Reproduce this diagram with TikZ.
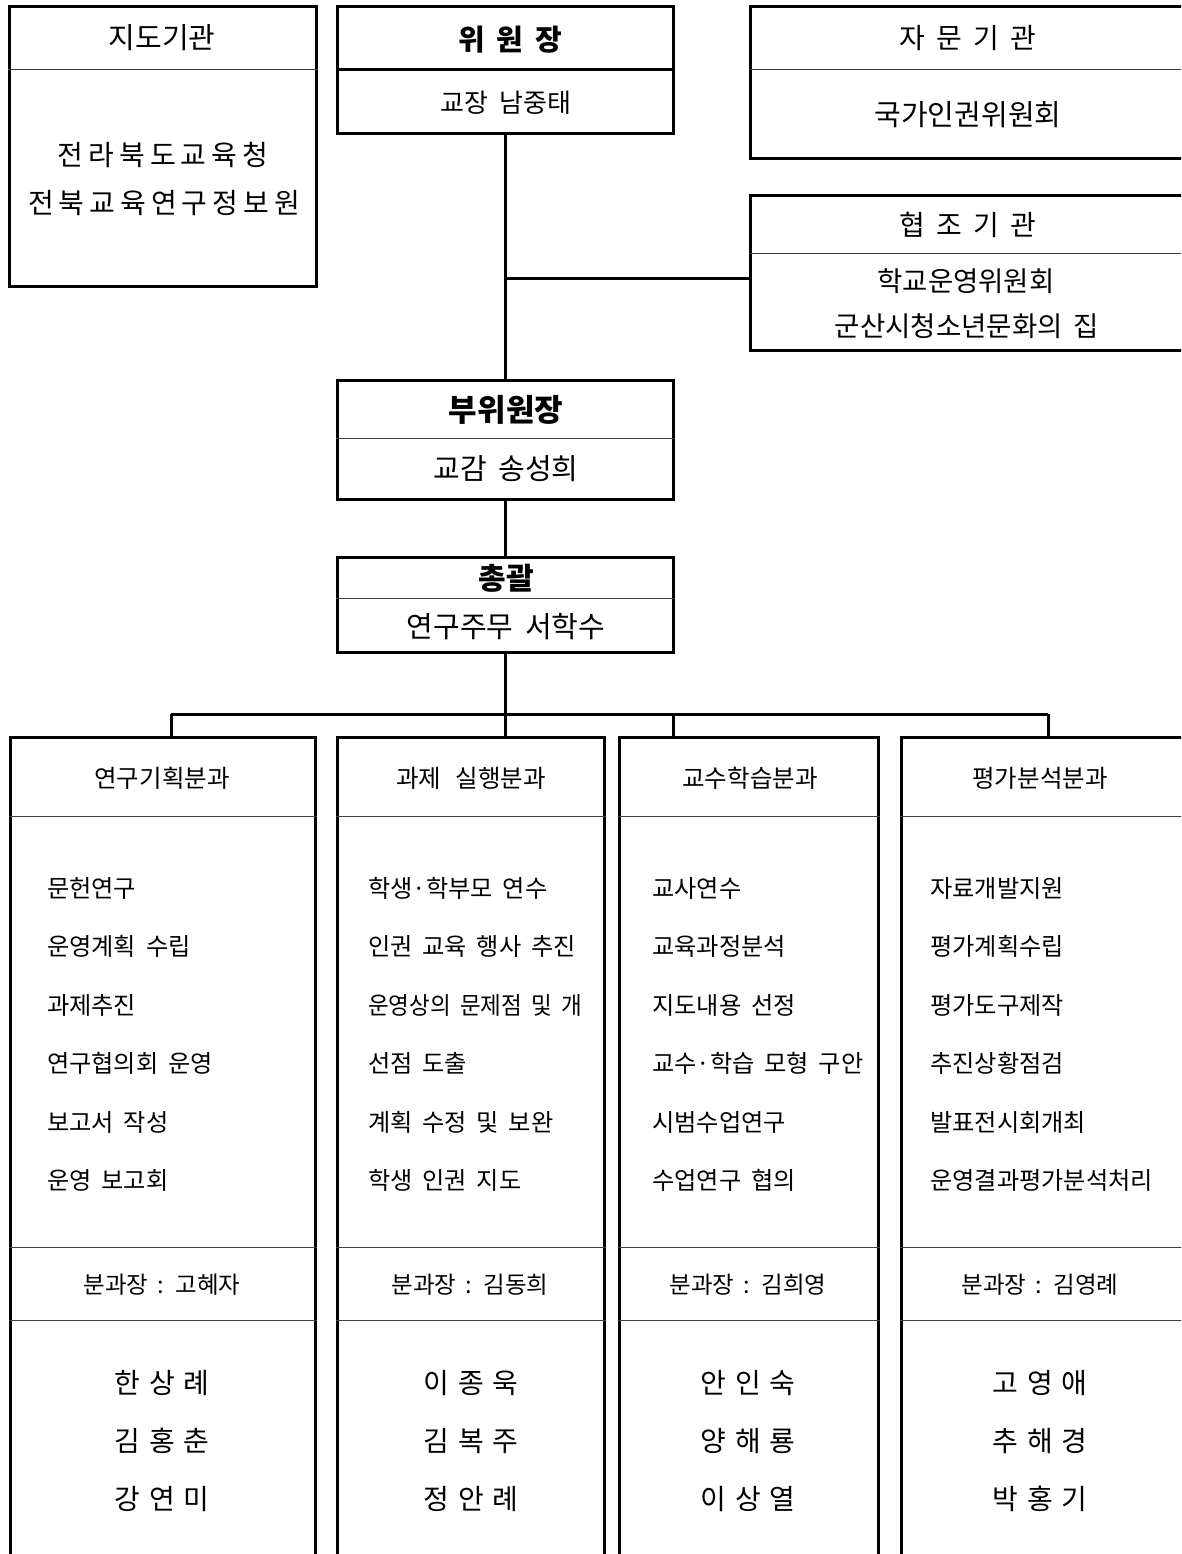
\documentclass[tikz,border=0pt]{standalone}
\usepackage{fontspec}
\setmainfont{Noto Sans CJK KR}[WordSpace=1.8]
\newcommand\gapA{\hspace{5pt}}
\newcommand\gapB{\hspace{8.5pt}}
\begin{document}
\begin{tikzpicture}[x=1pt,y=-1pt,
  box/.style={draw,line width=3pt,inner sep=0pt},
  conn/.style={line width=3pt},
  div/.style={line width=1.1pt,black!75},
  tx/.style={inner sep=0pt,font=\fontsize{29}{33}\selectfont},
  hd/.style={inner sep=0pt,font=\fontsize{24.5}{28}\selectfont},
  item/.style={inner sep=0pt,anchor=west,font=\fontsize{24.2}{28}\selectfont},
  chief/.style={inner sep=0pt,font=\fontsize{23.5}{27}\selectfont},
  nm/.style={inner sep=0pt,font=\fontsize{28}{32}\selectfont}]
\useasboundingbox (0,0) rectangle (1181,1554);
\clip (0,0) rectangle (1181,1554);

% ---------- top boxes ----------
\node[box,minimum width=307pt,minimum height=279pt] (jido) at (162.5,146.5) {};
\node[box,minimum width=336pt,minimum height=127pt] (wiwon) at (505,70.5) {};
\node[box,minimum width=440pt,minimum height=152pt] (jamun) at (970,83) {};
\node[box,minimum width=440pt,minimum height=154pt] (hyeop) at (970,273) {};
\node[box,minimum width=336pt,minimum height=119pt] (buwi) at (505,439.5) {};
\node[box,minimum width=336pt,minimum height=95pt] (chong) at (505,604.5) {};

\draw[div] ([yshift=-64pt]jido.north west) -- ([yshift=-64pt]jido.north east);
\draw[conn] ([yshift=-64pt]wiwon.north west) -- ([yshift=-64pt]wiwon.north east);
\draw[div] ([yshift=-64pt]jamun.north west) -- ([yshift=-64pt]jamun.north east);
\draw[div] ([yshift=-59pt]hyeop.north west) -- ([yshift=-59pt]hyeop.north east);
\draw[div] ([yshift=-60pt]buwi.north west) -- ([yshift=-60pt]buwi.north east);
\draw[div] ([yshift=-43pt]chong.north west) -- ([yshift=-43pt]chong.north east);

\node[tx] (jidoT) at (162,38) {지도기관};
\node[tx,font=\fontsize{28}{32}\selectfont] (jidoA) at (163,155) {전\gapA 라\gapA 북\gapA 도\gapA 교\gapA 육\gapA 청};
\node[tx,font=\fontsize{28}{32}\selectfont] (jidoB) at (164,203) {전\gapA 북\gapA 교\gapA 육\gapA 연\gapA 구\gapA 정\gapA 보\gapA 원};

\node[tx,font=\fontsize{29}{33}\selectfont\bfseries] (wiwonT) at (510,40) {위 원 장};
\node[tx,font=\fontsize{26}{30}\selectfont] (wiwonA) at (506,103) {교장 남중태};

\node[tx,font=\fontsize{28}{32}\selectfont] (jamunT) at (968,38) {자 문 기 관};
\node[tx] (jamunA) at (968,115) {국가인권위원회};

\node[tx,font=\fontsize{28}{32}\selectfont] (hyeopT) at (968,225) {협 조 기 관};
\node[tx,font=\fontsize{27.5}{31}\selectfont] (hyeopA) at (966,281) {학교운영위원회};
\node[tx,font=\fontsize{27.5}{31}\selectfont] (hyeopB) at (967,326) {군산시청소년문화의 집};

\node[tx,font=\fontsize{31}{35}\selectfont\bfseries] (buwiT) at (506,410) {부위원장};
\node[tx] (buwiA) at (506,469) {교감 송성희};

\node[tx,font=\fontsize{30}{34}\selectfont\bfseries] (chongT) at (506,578) {총괄};
\node[tx] (chongA) at (506,627) {연구주무 서학수};

% ---------- connectors ----------
\draw[conn] (wiwon.south) -- (buwi.north);
\coordinate (hj) at ([yshift=-5pt]hyeop.west);
\draw[conn] (hj -| wiwon.south) -- (hj);
\draw[conn] (buwi.south) -- (chong.north);

% ---------- columns ----------
\node[box,minimum width=305pt,minimum height=843pt] (c1) at (162.5,1158.5) {};
\node[box,minimum width=267pt,minimum height=843pt] (c2) at (470.5,1158.5) {};
\node[box,minimum width=259pt,minimum height=843pt] (c3) at (748.5,1158.5) {};
\node[box,minimum width=299pt,minimum height=843pt] (c4) at (1050.5,1158.5) {};

\foreach \c in {c1,c2,c3,c4}{
  \draw[div] ([yshift=-81pt]\c.north west) -- ([yshift=-81pt]\c.north east);
  \draw[div] ([yshift=-512pt]\c.north west) -- ([yshift=-512pt]\c.north east);
  \draw[div] ([yshift=-585pt]\c.north west) -- ([yshift=-585pt]\c.north east);
}

\coordinate (bus) at (505,714);
\coordinate (d1) at (171,714);
\coordinate (d3) at (673,714);
\coordinate (d4) at (1048,714);
\draw[conn] (chong.south) -- (bus);
\draw[conn] (d1) -- (d4);
\draw[conn] (d1) -- (d1 |- c1.north);
\draw[conn] (bus) -- (bus |- c2.north);
\draw[conn] (d3) -- (d3 |- c3.north);
\draw[conn] (d4) -- (d4 |- c4.north);

% headers
\node[hd] (h1) at (162,778) {연구기획분과};
\node[hd] (h2) at (471,778) {과제\hspace{0.6em}실행분과};
\node[hd] (h3) at (750,778) {교수학습분과};
\node[hd] (h4) at (1040,778) {평가분석분과};

% items
\foreach [count=\i] \t in {문헌연구,운영계획 수립,과제추진,연구협의회 운영,보고서 작성,운영 보고회}
  \node[item] (a\i) at (47,{829.5+58.5*\i}) {\t};
\foreach [count=\i] \t in {학생·학부모 연수,인권 교육 행사 추진,{\scalebox{0.93}[1]{운영상의 문제점 및 개}},선점 도출,계획 수정 및 보완,학생 인권 지도}
  \node[item] (b\i) at (368,{829.5+58.5*\i}) {\t};
\foreach [count=\i] \t in {교사연수,교육과정분석,지도내용 선정,교수·학습 모형 구안,시범수업연구,수업연구 협의}
  \node[item] (e\i) at (652,{829.5+58.5*\i}) {\t};
\foreach [count=\i] \t in {자료개발지원,평가계획수립,평가도구제작,추진상황점검,발표전시회개최,운영결과평가분석처리}
  \node[item] (f\i) at (930,{829.5+58.5*\i}) {\t};

% chiefs
\node[chief] (k1) at (162,1285) {분과장 : 고혜자};
\node[chief] (k2) at (470,1285) {분과장 : 김동희};
\node[chief] (k3) at (748,1285) {분과장 : 김희영};
\node[chief] (k4) at (1040,1285) {분과장 : 김영례};

% members
\node[nm] (m11) at (162,1383) {한\gapB 상\gapB 례};
\node[nm] (m12) at (162,1441) {김\gapB 홍\gapB 춘};
\node[nm] (m13) at (162,1499) {강\gapB 연\gapB 미};
\node[nm] (m21) at (471,1383) {이\gapB 종\gapB 욱};
\node[nm] (m22) at (471,1441) {김\gapB 복\gapB 주};
\node[nm] (m23) at (471,1499) {정\gapB 안\gapB 례};
\node[nm] (m31) at (748,1383) {안\gapB 인\gapB 숙};
\node[nm] (m32) at (748,1441) {양\gapB 해\gapB 룡};
\node[nm] (m33) at (748,1499) {이\gapB 상\gapB 열};
\node[nm] (m41) at (1040,1383) {고\gapB 영\gapB 애};
\node[nm] (m42) at (1040,1441) {추\gapB 해\gapB 경};
\node[nm] (m43) at (1040,1499) {박\gapB 홍\gapB 기};
\end{tikzpicture}
\end{document}
